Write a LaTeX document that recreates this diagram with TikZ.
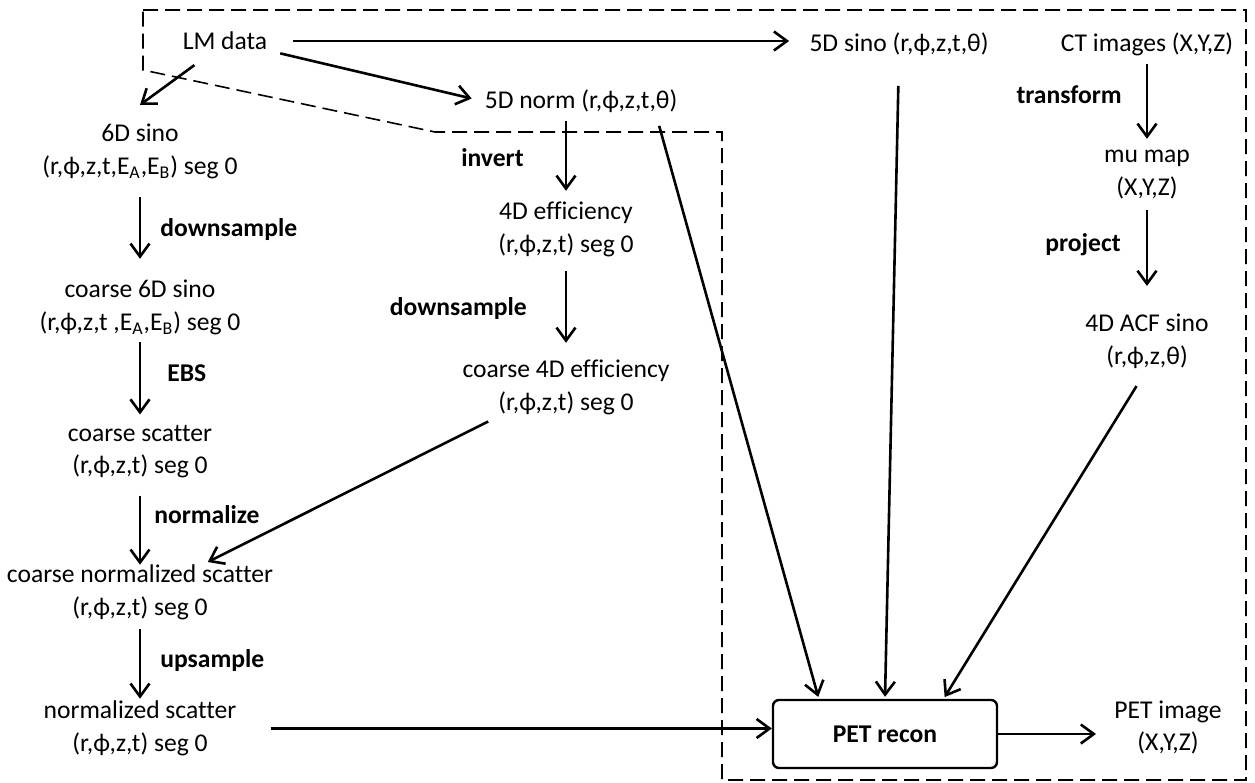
\documentclass[tikz,border=0pt]{standalone}
\usepackage{fontspec}
\setmainfont{Carlito}[Ligatures=NoCommon]
\usetikzlibrary{arrows.meta,positioning}

\begin{document}
\begin{tikzpicture}[x=0.5pt,y=-0.5pt,
    every node/.style={inner sep=0pt, font=\fontsize{12.8}{16.3}\selectfont},
    txt/.style={align=center},
    lbl/.style={font=\fontsize{12.8}{16.3}\selectfont\bfseries},
    flow/.style={-{Straight Barb[length=6.5pt,width=9.5pt]}, line width=1.3pt},
    shrink/.style 2 args={shorten <=#1, shorten >=#2},
    recon/.style={draw, line width=1.2pt, rounded corners=3pt, minimum width=112pt,
        minimum height=34pt, font=\fontsize{12.8}{16.3}\selectfont\bfseries},
    dashbox/.style={dash pattern=on 7.5pt off 3.5pt, line width=0.8pt}]
    \useasboundingbox (0,0) rectangle (1255,783);
    % dashed region
    \draw[dashbox] (143,10) -- (1246,10) -- (1246,780) -- (722,780) -- (722,132)
        -- (435,132) -- (143,70) -- cycle;
    % nodes
    \node[txt] (lm) at (225,41) {LM data};
    \node[txt] (sino5) at (899,44) {5D sino (r,ϕ,z,t,θ)};
    \node[txt] (ct) at (1147,44) {CT images (X,Y,Z)};
    \node[txt] (norm5) at (581,101.5) {5D norm (r,ϕ,z,t,θ)};
    \node[txt] (sino6) at (140,151.5) {6D sino\\(r,ϕ,z,t,E\textsubscript{A},E\textsubscript{B}) seg 0};
    \node[txt] (eff4) at (566,229.5) {4D efficiency\\(r,ϕ,z,t) seg 0};
    \node[txt] (mu) at (1147,174.5) {mu map\\(X,Y,Z)};
    \node[txt] (csino6) at (140,307.5) {coarse 6D sino\\(r,ϕ,z,t ,E\textsubscript{A},E\textsubscript{B}) seg 0};
    \node[txt] (acf) at (1147,341.5) {4D ACF sino\\(r,ϕ,z,θ)};
    \node[txt] (ceff4) at (566,387.5) {coarse 4D efficiency\\(r,ϕ,z,t) seg 0};
    \node[txt] (cscat) at (140,451.5) {coarse scatter\\(r,ϕ,z,t) seg 0};
    \node[txt] (cnorm) at (140,592.5) {coarse normalized scatter\\(r,ϕ,z,t) seg 0};
    \node[txt] (nscat) at (140,728.5) {normalized scatter\\(r,ϕ,z,t) seg 0};
    \node[recon] (pet) at (885,734) {PET recon};
    \node[txt] (petimg) at (1168,727.5) {PET image\\(X,Y,Z)};
    % connectors
    \draw[flow, shrink={12.5pt}{10pt}] (lm.east) -- (lm.east -| sino5.west);
    \draw[flow, shrink={6.5pt}{6.5pt}] (lm.south east) -- (norm5.west);
    \draw[flow, shrink={12.5pt}{16pt}] (lm.222) -- (sino6.133);
    \draw[flow, shrink={9pt}{10.5pt}] (sino6) -- node[lbl, right=9.5pt] {downsample} (csino6);
    \draw[flow, shrink={3.5pt}{5pt}] (csino6) -- node[lbl, right=13pt, yshift=3.5pt] {EBS} (cscat);
    \draw[flow, shrink={8.5pt}{0pt}] (cscat) -- node[lbl, right=6.5pt, yshift=3.5pt] {normalize} (cnorm);
    \draw[flow, shrink={4.5pt}{1pt}] (cnorm) -- node[lbl, right=9.5pt] {upsample} (nscat);
    \draw[flow, shrink={4pt}{5.5pt}] (eff4 |- norm5.south) -- node[lbl, left=20.5pt] {invert} (eff4);
    \draw[flow, shrink={7pt}{8.5pt}] (eff4) -- node[lbl, left=19pt] {downsample} (ceff4);
    \draw[flow, shrink={4pt}{5.5pt}] (ct) -- node[lbl, left=12pt, yshift=4pt] {transform} (mu);
    \draw[flow, shrink={5.5pt}{14pt}] (mu) -- node[lbl, left=12.5pt, yshift=6pt] {project} (acf);
    \draw[flow, shrink={7pt}{3pt}] (ceff4.203) -- (cnorm.24);
    \draw[flow, shrink={17pt}{0pt}] (nscat.east) -- (nscat.east -| pet.west);
    \draw[flow, shrink={6.5pt}{1pt}] (norm5.-9) -- (pet.152);
    \draw[flow, shrink={15pt}{1pt}] (sino5.south) -- (pet.north);
    \draw[flow, shrink={10pt}{1pt}] (acf.south) -- (pet.31);
    \draw[flow, shrink={0pt}{9pt}] (pet.east) -- (petimg.west |- pet.east);
\end{tikzpicture}
\end{document}
